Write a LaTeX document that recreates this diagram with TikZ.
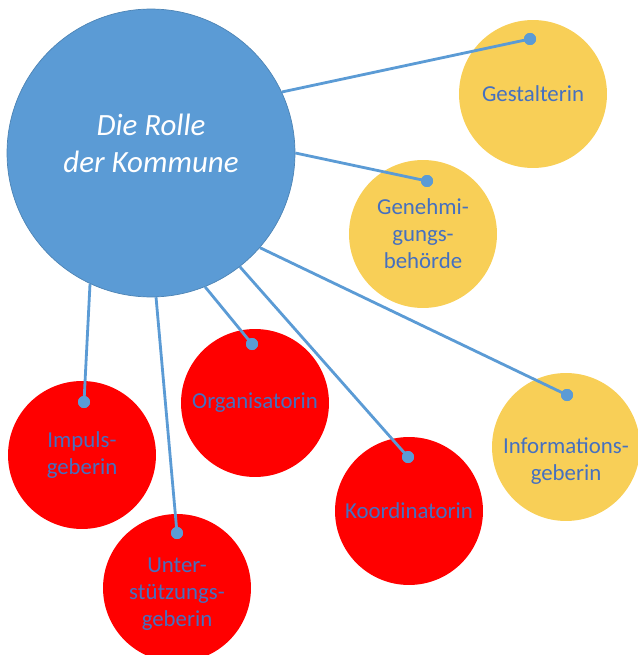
\documentclass[tikz,border=0pt]{standalone}
\usepackage{fontspec}
\setmainfont{Carlito}
\definecolor{rolleblau}{HTML}{5B9BD5}
\definecolor{gelb}{HTML}{F8CF57}
\definecolor{rot}{HTML}{FF0000}
\definecolor{textblau}{HTML}{4570C0}
\tikzset{
  rolle/.style={circle,fill=rolleblau,draw=rolleblau!85!black,line width=0.4pt,
    minimum size=5.76cm,inner sep=0pt},
  titel/.style={text=white,align=center,font=\fontsize{17.6}{21}\selectfont\itshape},
  gelbkreis/.style={circle,fill=gelb,minimum size=2.96cm,inner sep=0pt,
    text=textblau,align=center,font=\fontsize{13}{15.4}\selectfont},
  rotkreis/.style={gelbkreis,fill=rot},
  beschriftung/.style={text=textblau,align=center,font=\fontsize{13}{15.4}\selectfont},
  verbinder/.style={draw=rolleblau,line width=1.6pt},
  punkt/.style={circle,fill=rolleblau,inner sep=0pt,minimum size=0.24cm}
}
\begin{document}
\begin{tikzpicture}[x=0.02cm,y=-0.02cm]
\useasboundingbox (0,0) rectangle (637,655);
\node[rolle] (rolle) at (151,153) {};
\node[titel] (rolle-text) at (151,143) {Die Rolle\\der Kommune};
% gelbe Rollen
\node[gelbkreis] (gestalterin) at (533,94) {Gestalterin};
\node[gelbkreis] (genehmigung) at (423,234) {Genehmi-\\gungs-\\behörde};
\node[gelbkreis] (information) at (566,447) {};
\node[beschriftung] (information-text) at (566,461) {Informations-\\geberin};
% rote Rollen
\node[rotkreis] (koordinatorin) at (409,511) {Koordinatorin};
\node[rotkreis] (organisatorin) at (255,403) {Organisatorin};
\node[rotkreis] (impuls) at (82,455) {Impuls-\\geberin};
\node[rotkreis] (unterstuetzung) at (177,588) {};
\node[beschriftung] (unterstuetzung-text) at (177,594) {Unter-\\stützungs-\\geberin};
% Verbindungen mit Punkt
\foreach \ziel/\winkel/\px/\py in {gestalterin/25.5/530/39,
    genehmigung/0.4/427/181, information/-41/567/395,
    koordinatorin/-52/408/457, organisatorin/-68.6/252/344,
    unterstuetzung/-88.4/177/533, impuls/-115.7/84/402} {
  \node[punkt] (\ziel-p) at (\px,\py) {};
  \draw[verbinder] (rolle.\winkel) -- (\ziel-p.center);
  \node[punkt] at (\ziel-p) {};
}
\end{tikzpicture}
\end{document}
